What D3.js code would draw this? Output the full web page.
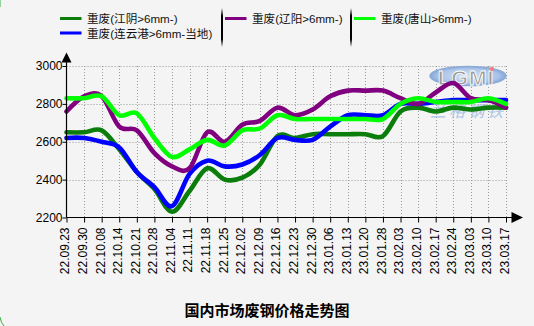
<!DOCTYPE html>
<html>
<head>
<meta charset="utf-8">
<script src="https://cdn.jsdelivr.net/npm/d3@7"></script>
<style>
  html, body { margin: 0; padding: 0; background: #ffffff; }
  svg { display: block; }
  text { font-family: "Liberation Sans", Arial, "Noto Sans CJK SC", sans-serif; }
</style>
</head>
<body>
<svg id="chart" width="534" height="326"></svg>
<script>
// Weekly dates (yy.mm.dd)
const dates = ["22.09.23","22.09.30","22.10.08","22.10.14","22.10.21","22.10.28","22.11.04","22.11.11",
  "22.11.18","22.11.25","22.12.02","22.12.09","22.12.16","22.12.23","22.12.30","23.01.06","23.01.13",
  "23.01.20","23.01.28","23.02.03","23.02.10","23.02.17","23.02.24","23.03.03","23.03.10","23.03.17"];

// Heavy scrap prices, yuan/t
const jiangyin    = [2650,2650,2660,2560,2440,2350,2230,2340,2460,2400,2410,2480,2630,2620,2640,2640,2640,2640,2630,2760,2780,2760,2780,2770,2780,2780];
const lianyungang = [2620,2620,2600,2570,2440,2360,2260,2430,2500,2470,2480,2530,2620,2610,2610,2680,2740,2740,2740,2800,2800,2810,2820,2820,2820,2820];
const liaoyang    = [2760,2840,2840,2680,2660,2540,2470,2460,2650,2600,2690,2710,2780,2740,2770,2840,2870,2870,2870,2830,2800,2860,2910,2830,2820,2780];
const tangshan    = [2830,2830,2840,2740,2750,2620,2520,2560,2610,2580,2660,2670,2740,2720,2720,2720,2720,2720,2720,2800,2830,2810,2810,2810,2830,2800];

const yTicks = [2200, 2400, 2600, 2800, 3000];

const seriesNames  = ["重废(江阴>6mm-)", "重废(连云港>6mm-当地)", "重废(辽阳>6mm-)", "重废(唐山>6mm-)"];
const seriesValues = [jiangyin, lianyungang, liaoyang, tangshan];
const seriesColors = ["#0a7d0a", "#0000ff", "#800080", "#00ff00"];

const title = "国内市场废钢价格走势图";

const svg = d3.select("#chart");
const W = 534, H = 326;

// panel background
svg.append("rect").attr("width", W).attr("height", H).attr("fill", "#f4f4f4");
svg.append("path").attr("d", "M0,317 Q1,323 4,326").attr("fill", "none").attr("stroke", "#3cb043").attr("stroke-width", 1);
svg.append("path").attr("d", "M0,0 L0,7").attr("fill", "none").attr("stroke", "#3cb043").attr("stroke-width", 1);

const x = d3.scalePoint().domain(dates).range([66.5, 506]);
const y = d3.scaleLinear().domain([2200, 3000]).range([217.5, 66]);

// dotted grid
const grid = svg.append("g").attr("stroke", "#999").attr("stroke-width", 1).attr("stroke-dasharray", "1,2");
grid.selectAll(".gv").data(dates.slice(1)).join("line")
  .attr("x1", d => Math.round(x(d)) + 0.5).attr("x2", d => Math.round(x(d)) + 0.5)
  .attr("y1", y(3000)).attr("y2", y(2200));
grid.selectAll(".gh").data(yTicks.slice(1)).join("line")
  .attr("x1", x(dates[0])).attr("x2", x(dates[dates.length - 1]))
  .attr("y1", d => Math.round(y(d)) + 0.5).attr("y2", d => Math.round(y(d)) + 0.5);

// watermark logo
const wm = svg.append("g");
const grad = svg.append("defs").append("radialGradient").attr("id", "lg");
grad.append("stop").attr("offset", "0%").attr("stop-color", "#d6e3f5");
grad.append("stop").attr("offset", "80%").attr("stop-color", "#a9c3e8");
grad.append("stop").attr("offset", "100%").attr("stop-color", "#86a7d8");
wm.append("ellipse").attr("cx", 468).attr("cy", 76).attr("rx", 38).attr("ry", 9.5)
  .attr("fill", "url(#lg)").attr("stroke", "#8eabd8").attr("stroke-width", 1.5);
wm.append("text").attr("x", 466).attr("y", 85).attr("text-anchor", "middle")
  .attr("font-size", 21).attr("font-weight", "bold").attr("letter-spacing", 1)
  .attr("fill", "#9a9a9a").attr("stroke", "#ffffff").attr("stroke-width", 0.8)
  .text("LGMI");
wm.append("circle").attr("cx", 492).attr("cy", 69).attr("r", 2.2).attr("fill", "#f08080");
wm.append("text").attr("x", 468).attr("y", 117).attr("text-anchor", "middle")
  .attr("font-family", "Noto Sans CJK SC").attr("font-size", 16).attr("font-style", "italic")
  .attr("letter-spacing", 3).attr("fill", "#a3bce3").attr("opacity", 0.85)
  .text("兰格钢铁");

// series lines
const line = d3.line().x((d, i) => x(dates[i])).y(d => y(d)).curve(d3.curveCatmullRom.alpha(0));
svg.append("g").selectAll("path").data(seriesValues).join("path")
  .attr("d", d => line(d))
  .attr("fill", "none")
  .attr("stroke", (d, i) => seriesColors[i])
  .attr("stroke-width", 4.6)
  .attr("stroke-linejoin", "round")
  .attr("stroke-linecap", "round");

// axes
const yAxis = svg.append("g").attr("transform", `translate(${x(dates[0])},0)`)
  .call(d3.axisLeft(y).tickValues(yTicks).tickFormat(d3.format("d")).tickSize(4).tickPadding(0));
yAxis.select(".domain").remove();
yAxis.selectAll("text").attr("font-size", 12).attr("fill", "#000").attr("font-family", "Liberation Sans, Arial");
yAxis.selectAll("line").attr("stroke", "#000");

const xAxis = svg.append("g").attr("transform", `translate(0,${y(2200)})`)
  .call(d3.axisBottom(x).tickSize(5));
xAxis.select(".domain").remove();
xAxis.selectAll("line").attr("stroke", "#000");
xAxis.selectAll("text")
  .attr("font-size", 12).attr("fill", "#000").attr("font-family", "Liberation Sans, Arial")
  .attr("text-anchor", "end")
  .attr("transform", "rotate(-90)")
  .attr("x", -10).attr("y", 0).attr("dy", "0.2em");

// axis lines with arrows
const x0 = x(dates[0]);
svg.append("line").attr("x1", x0).attr("x2", x0).attr("y1", y(2200)).attr("y2", 60)
  .attr("stroke", "#000").attr("stroke-width", 1.2);
svg.append("path").attr("d", `M${x0},52.5 L${x0 - 5},62.5 L${x0 + 5},62.5 Z`).attr("fill", "#000");
svg.append("line").attr("x1", x0).attr("x2", 513).attr("y1", y(2200)).attr("y2", y(2200))
  .attr("stroke", "#000").attr("stroke-width", 1.2);
svg.append("path").attr("d", `M523,${y(2200)} L511.5,${y(2200) - 5.5} L511.5,${y(2200) + 5.5} Z`).attr("fill", "#000");

// legend
const sepGrad = svg.select("defs").append("linearGradient").attr("id", "sep")
  .attr("x1", 0).attr("y1", 0).attr("x2", 0).attr("y2", 1);
sepGrad.append("stop").attr("offset", "0%").attr("stop-color", "#f4f4f4");
sepGrad.append("stop").attr("offset", "20%").attr("stop-color", "#000");
sepGrad.append("stop").attr("offset", "80%").attr("stop-color", "#000");
sepGrad.append("stop").attr("offset", "100%").attr("stop-color", "#f4f4f4");

const legendItems = [
  { idx: 0, sx: 60, ty: 18.5 },
  { idx: 1, sx: 60, ty: 33 },
  { idx: 2, sx: 225, ty: 18.5 },
  { idx: 3, sx: 354, ty: 18.5 }
];
const legend = svg.append("g");
legend.selectAll("line.sw").data(legendItems).join("line")
  .attr("x1", d => d.sx).attr("x2", d => d.sx + 21.5)
  .attr("y1", d => d.ty).attr("y2", d => d.ty)
  .attr("stroke", d => seriesColors[d.idx]).attr("stroke-width", 3);
legend.selectAll("text").data(legendItems).join("text")
  .attr("x", d => d.sx + 27).attr("y", d => d.ty + 4.5)
  .attr("font-size", 11.6).attr("fill", "#111")
  .attr("font-family", "Noto Sans CJK SC, Liberation Sans")
  .text(d => seriesNames[d.idx]);
[222, 351].forEach(sx => {
  legend.append("rect").attr("x", sx - 1).attr("y", 8).attr("width", 2).attr("height", 39).attr("fill", "url(#sep)");
});

// title
svg.append("text").attr("x", 267).attr("y", 316).attr("text-anchor", "middle")
  .attr("font-family", "Noto Sans CJK SC").attr("font-weight", "bold").attr("font-size", 15)
  .attr("fill", "#000").text(title);
</script>
</body>
</html>
